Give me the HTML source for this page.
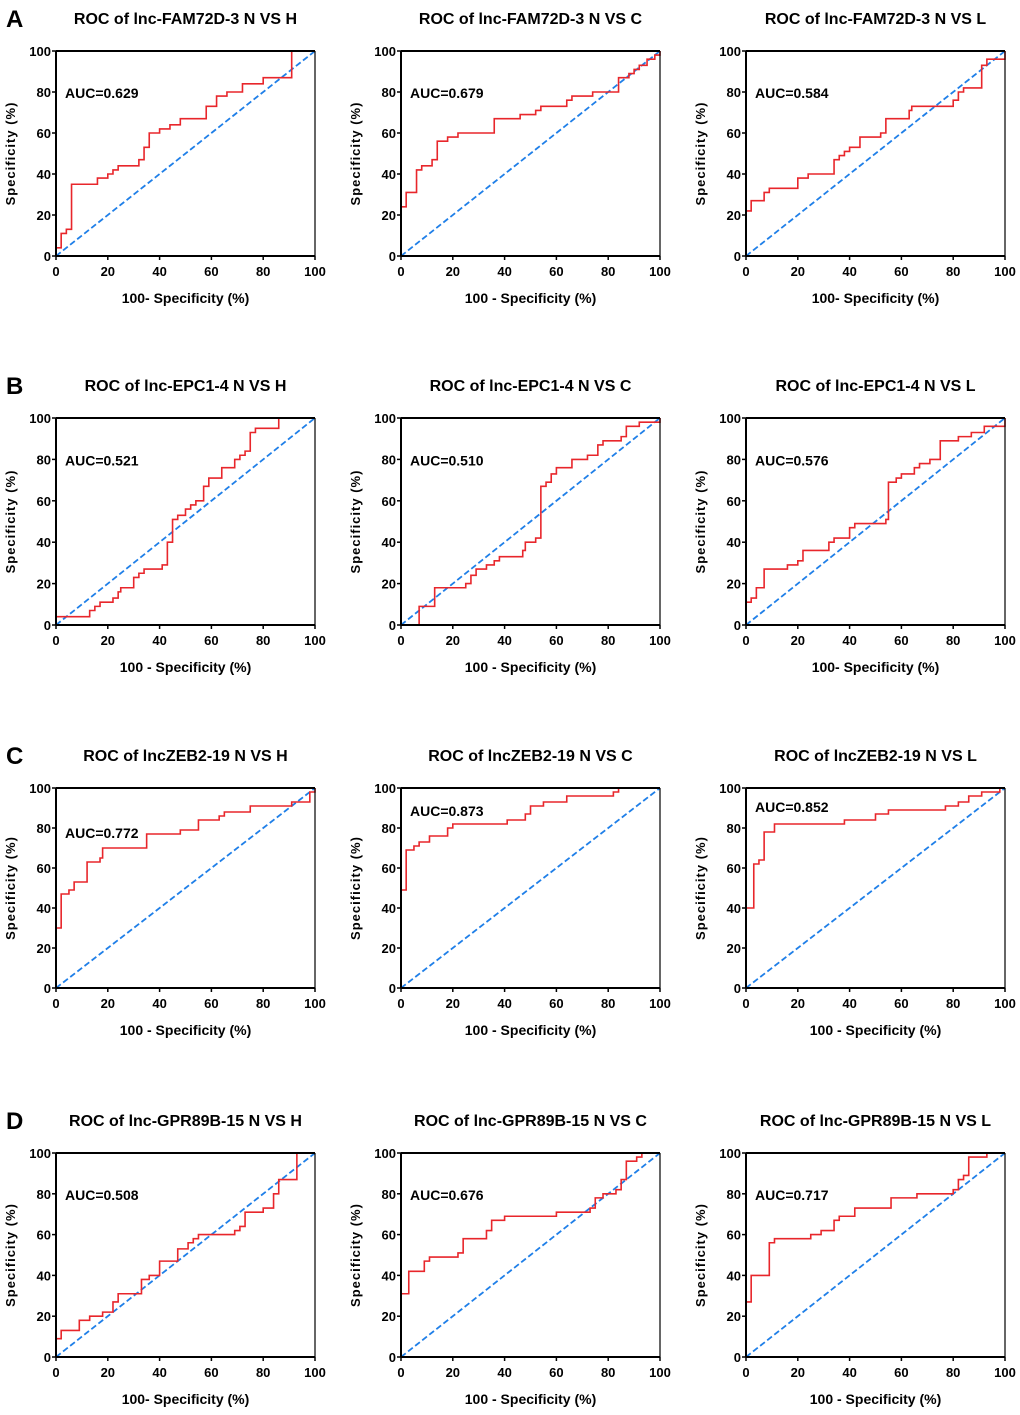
<!DOCTYPE html>
<html><head><meta charset="utf-8"><style>
body{margin:0;background:#fff;}
svg{display:block;font-family:"Liberation Sans",Arial,sans-serif;}
</style></head><body>
<svg id="fig" width="1020" height="1415" viewBox="0 0 1020 1415"></svg>
<script>
// ---- data (fpr = 100-specificity step points, tpr = sensitivity at that point) ----
const titles = [
 "ROC of lnc-FAM72D-3 N VS H","ROC of lnc-FAM72D-3  N VS C","ROC of lnc-FAM72D-3 N VS L",
 "ROC of lnc-EPC1-4 N VS H","ROC of lnc-EPC1-4 N VS C","ROC of lnc-EPC1-4 N VS L",
 "ROC of lncZEB2-19 N VS H","ROC of lncZEB2-19 N VS C","ROC of lncZEB2-19 N VS L",
 "ROC of lnc-GPR89B-15 N VS H","ROC of lnc-GPR89B-15 N VS C","ROC of lnc-GPR89B-15 N VS L"];
const aucLabels = ["AUC=0.629","AUC=0.679","AUC=0.584","AUC=0.521","AUC=0.510","AUC=0.576",
 "AUC=0.772","AUC=0.873","AUC=0.852","AUC=0.508","AUC=0.676","AUC=0.717"];
const aucLevel = [80,80,80,80,80,80,78,89,91,80,80,80];
const xTitles = ["100- Specificity (%)","100 - Specificity (%)","100- Specificity (%)",
 "100 - Specificity (%)","100 - Specificity (%)","100- Specificity (%)",
 "100 - Specificity (%)","100 - Specificity (%)","100 - Specificity (%)",
 "100- Specificity (%)","100 - Specificity (%)","100 - Specificity (%)"];
const rowLetters = ["A","B","C","D"];
const ticks = [0,20,40,60,80,100];

const fprAH=[0,2,4,6,16,20,22,24,32,34,36,40,44,48,58,62,66,72,80,91,100];
const tprAH=[4,11,13,35,38,40,42,44,47,53,60,62,64,67,73,78,80,84,87,100,100];
const fprAC=[0,2,6,8,12,14,18,22,36,46,52,54,64,66,74,84,88,90,92,95,98,100];
const tprAC=[24,31,42,44,47,56,58,60,67,69,71,73,76,78,80,87,89,91,93,96,98,100];
const fprAL=[0,2,7,9,20,24,34,36,38,40,44,52,54,63,64,80,82,84,91,93,100];
const tprAL=[22,27,31,33,38,40,47,49,51,53,58,60,67,71,73,76,80,82,93,96,100];
const fprBH=[0,13,15,17,22,24,25,30,32,34,41,43,45,47,50,52,54,57,59,64,69,71,73,75,77,86,100];
const tprBH=[4,7,9,11,13,16,18,23,25,27,29,40,51,53,56,58,60,67,71,76,80,82,84,93,95,100,100];
const fprBC=[7,13,25,27,29,33,36,38,47,48,52,54,56,58,60,66,72,76,78,85,87,92,100];
const tprBC=[9,18,20,24,27,29,31,33,36,40,42,67,69,73,76,80,82,87,89,91,96,98,100];
const fprBL=[0,2,4,7,16,20,22,32,34,40,42,54,55,58,60,65,67,71,75,82,87,92,100];
const tprBL=[11,13,18,27,29,31,36,40,42,47,49,51,69,71,73,76,78,80,89,91,93,96,100];
const fprCH=[0,2,5,7,12,17,18,35,48,55,63,65,75,91,98,100];
const tprCH=[30,47,49,53,63,65,70,77,79,84,86,88,91,93,98,100];
const fprCC=[0,2,5,7,11,18,20,41,48,50,55,64,82,84,100];
const tprCC=[49,69,71,73,76,80,82,84,87,91,93,96,98,100,100];
const fprCL=[0,3,5,7,11,38,50,55,77,82,86,91,98,100];
const tprCL=[40,62,64,78,82,84,87,89,91,93,96,98,100,100];
const fprDH=[0,2,9,13,18,22,24,33,36,40,47,51,53,55,69,71,73,80,84,86,93,100];
const tprDH=[9,13,18,20,22,27,31,38,40,47,53,56,58,60,62,64,71,73,80,87,100,100];
const fprDC=[0,3,9,11,22,24,33,35,40,60,73,75,78,83,85,87,91,93,100];
const tprDC=[31,42,47,49,51,58,62,67,69,71,73,78,80,82,87,96,98,100,100];
const fprDL=[0,2,9,11,25,29,34,36,42,56,66,80,82,84,86,93,100];
const tprDL=[27,40,56,58,60,62,67,69,73,78,80,82,87,89,98,100,100];

const fprs=[fprAH,fprAC,fprAL,fprBH,fprBC,fprBL,fprCH,fprCC,fprCL,fprDH,fprDC,fprDL];
const tprs=[tprAH,tprAC,tprAL,tprBH,tprBC,tprBL,tprCH,tprCC,tprCL,tprDH,tprDC,tprDL];

// ---- layout ----
const colX=[[56,315],[401,660],[746,1005]];
const rowY=[[51,256],[418,625],[788,988],[1153,1357]];
const NS="http://www.w3.org/2000/svg";
const svg=document.getElementById("fig");
function mk(tag,attrs,parent){const e=document.createElementNS(NS,tag);for(const k in attrs)e.setAttribute(k,attrs[k]);(parent||svg).appendChild(e);return e;}
function txt(s,attrs,parent){const e=mk("text",attrs,parent);e.textContent=s;return e;}

for(let r=0;r<4;r++){
 const L=txt(rowLetters[r],{x:6,y:rowY[r][0]-24,"font-size":24,"font-weight":"bold"});
 
 
 for(let c=0;c<3;c++){
  const i=r*3+c;
  const [x0,x1]=colX[c],[yt,yb]=rowY[r];
  const sx=v=>x0+(x1-x0)*v/100, sy=v=>yb-(yb-yt)*v/100;
  const g=mk("g",{});
  
  
  const t=txt(titles[i],{x:(x0+x1)/2,y:yt-27,"text-anchor":"middle","font-size":16,"font-weight":"bold"},g);
  
  
  // diagonal
  const d=mk("line",{x1:sx(0),y1:sy(0),x2:sx(100),y2:sy(100),stroke:"#1f7fe8","stroke-width":1.8,"stroke-dasharray":"6,3"},g);
  
  
  // ROC step curve
  const fx=fprs[i],ty=tprs[i];
  let pts=[[0,0]],cy=0;
  for(let k=0;k<fx.length;k++){pts.push([fx[k],cy]);pts.push([fx[k],ty[k]]);cy=ty[k];}
  const p=mk("polyline",{points:pts.map(q=>sx(q[0])+","+sy(q[1])).join(" "),fill:"none",stroke:"#e8262b","stroke-width":1.6},g);
  
  
  // frame
  mk("line",{x1:x0,y1:yt,x2:x1,y2:yt,stroke:"#000","stroke-width":2},g);
  mk("line",{x1:x1,y1:yt,x2:x1,y2:yb,stroke:"#000","stroke-width":1.2},g);
  const ax=mk("line",{x1:x0,y1:yb,x2:x1,y2:yb,stroke:"#000","stroke-width":2},g);
  
  
  const ay=mk("line",{x1:x0,y1:yt,x2:x0,y2:yb,stroke:"#000","stroke-width":2},g);
  
  
  for(const v of ticks){
   mk("line",{x1:sx(v),y1:yb,x2:sx(v),y2:yb+4,stroke:"#000","stroke-width":1.5},g);
   mk("line",{x1:x0-4,y1:sy(v),x2:x0,y2:sy(v),stroke:"#000","stroke-width":1.5},g);
   const xl=txt(String(v),{x:sx(v),y:yb+20,"text-anchor":"middle","font-size":13,"font-weight":"bold"},g);
   
   
   const yl=txt(String(v),{x:x0-5,y:sy(v)+5,"text-anchor":"end","font-size":13,"font-weight":"bold"},g);
   
   
  }
  const xt=txt(xTitles[i],{x:(x0+x1)/2,y:yb+47,"text-anchor":"middle","font-size":14,"font-weight":"bold"},g);
  
  
  const yx=x0-41,ym=(yt+yb)/2;
  const yt2=txt("Specificity (%)",{x:yx,y:ym,"text-anchor":"middle","font-size":13,"font-weight":"bold","letter-spacing":"1",transform:"rotate(-90 "+yx+" "+ym+")"},g);
  
  
  const a=txt(aucLabels[i],{x:x0+9,y:sy(aucLevel[i])+6,"font-size":14,"font-weight":"bold"},g);
  
  
 }
}
</script>
</body></html>
